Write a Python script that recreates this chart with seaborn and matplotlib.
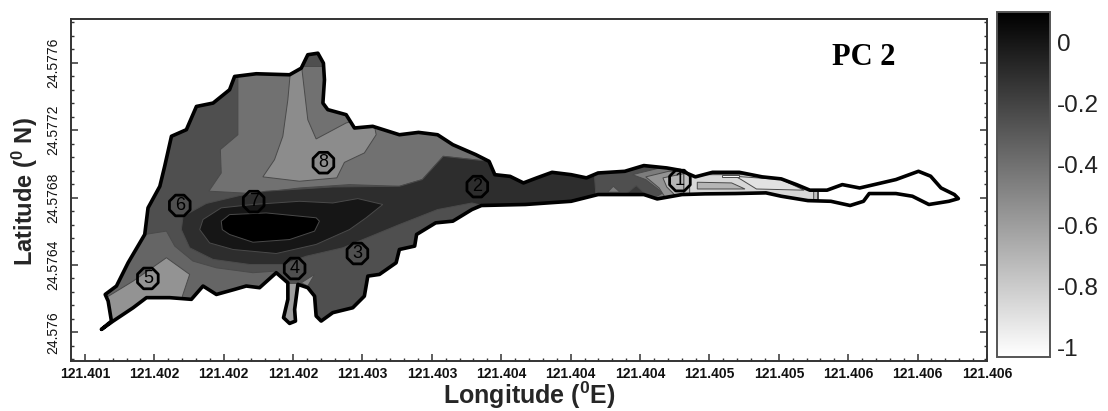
"""PC 2 loading map over the wetland outline, with the eight sampling sites."""

import matplotlib

matplotlib.use("Agg")
import matplotlib.pyplot as plt
import numpy as np
import seaborn as sns
from matplotlib.cm import ScalarMappable
from matplotlib.colors import Normalize
from matplotlib.patches import Polygon
from matplotlib.ticker import MultipleLocator

# all traced coordinates are in microdegrees from these origins
LON0 = 121.40
LAT0 = 24.57

OUTLINE_LON = [1296, 1353, 1334, 1317, 1382, 1449, 1545, 1564, 1632, 1660, 1699, 1785, 1843, 1939,
               2034, 2063, 2188, 2380, 2447, 2485, 2543, 2575, 2581, 2572, 2600, 2706, 2754, 2859,
               3013, 3123, 3233, 3321, 3453, 3530, 3563, 3651, 3728, 3805, 3893, 4003, 4091, 4158,
               4312, 4422, 4554, 4631, 4719, 4818, 4972, 5104, 5214, 5302, 5379, 5478, 5566, 5666,
               5875, 6005, 6075, 6135, 6212, 6235, 6180, 6065, 5970, 5875, 5721, 5688, 5611, 5500,
               5368, 5214, 5126, 4950, 4774, 4642, 4499, 4422, 4158, 4003, 3739, 3486, 3431, 3321,
               3222, 3112, 3101, 3013, 2994, 2898, 2831, 2811, 2744, 2629, 2562, 2533, 2524, 2485,
               2428, 2409, 2414, 2380, 2345, 2370, 2370, 2303, 2207, 2130, 2063, 1958, 1881, 1814,
               1689, 1555, 1478, 1363, 1296]
OUTLINE_LAT = [6018, 6067, 6186, 6225, 6275, 6413, 6581, 6739, 6867, 6986, 7164, 7203, 7341, 7361,
               7440, 7519, 7535, 7529, 7568, 7648, 7657, 7598, 7499, 7361, 7322, 7292, 7213, 7223,
               7173, 7187, 7173, 7114, 7055, 7015, 6936, 6926, 6887, 6917, 6950, 6936, 6917, 6946,
               6956, 6990, 6976, 6962, 6923, 6950, 6950, 6923, 6911, 6877, 6844, 6844, 6877, 6857,
               6907, 6956, 6927, 6857, 6818, 6794, 6778, 6759, 6808, 6824, 6824, 6778, 6753, 6778,
               6782, 6808, 6828, 6824, 6822, 6818, 6792, 6818, 6818, 6778, 6759, 6753, 6729, 6660,
               6650, 6581, 6512, 6492, 6413, 6344, 6334, 6215, 6146, 6117, 6067, 6097, 6215, 6265,
               6285, 6136, 6067, 6053, 6087, 6196, 6294, 6354, 6265, 6275, 6255, 6225, 6275, 6196,
               6206, 6206, 6146, 6067, 6018]

NORTH_LON = [2082, 2082, 1981, 1986, 1915, 2169, 2437, 2725, 3013, 3145, 3266, 3497, 3497, 3013]
NORTH_LAT = [7578, 7173, 7085, 6946, 6838, 6824, 6857, 6877, 6867, 6907, 7045, 7019, 7381, 7578]

NORTH_INNER_LON = [2389, 2370, 2341, 2293, 2226, 2437, 2652, 2696, 2811, 2879, 2859, 2706, 2533, 2485, 2447]
NORTH_INNER_LAT = [7598, 7381, 7164, 7025, 6923, 6897, 6917, 7009, 7065, 7173, 7282, 7243, 7148, 7262, 7598]

SOUTHWEST_LON = [1286, 1545, 1670, 1718, 1823, 1958, 2169, 2303, 2322, 1286]
SOUTHWEST_LAT = [6581, 6581, 6601, 6512, 6423, 6383, 6354, 6364, 6196, 5998]

SOUTHWEST_INNER_LON = [1306, 1478, 1670, 1804, 1762, 1747, 1286]
SOUTHWEST_INNER_LAT = [6196, 6304, 6443, 6344, 6215, 5998, 5998]

PATCH_LON = [2447, 2524, 2485]
PATCH_LAT = [6294, 6344, 6275]

CHANNEL_LON = [2341, 2437, 2437, 2341]
CHANNEL_LAT = [6294, 6294, 6038, 6038]

CORE_LON = [1766, 1900, 2092, 2245, 2629, 3013, 3145, 3266, 3497, 3673, 4136, 4146, 3673, 3431,
            3233, 3013, 2687, 2476, 2341, 2150, 1939, 1804, 1756]
CORE_LAT = [6689, 6765, 6812, 6838, 6863, 6867, 6907, 7045, 7019, 7045, 6946, 6808, 6709, 6768,
            6729, 6640, 6502, 6452, 6403, 6403, 6433, 6502, 6610]

CORE_INNER_LON = [1862, 1881, 1986, 2169, 2437, 2629, 2773, 2917, 2821, 2725, 2533, 2303, 2054, 1919]
CORE_INNER_LAT = [6610, 6670, 6739, 6759, 6778, 6768, 6794, 6759, 6680, 6610, 6522, 6468, 6492, 6531]

CORE_PEAK_LON = [1986, 2034, 2245, 2533, 2552, 2524, 2380, 2169, 2034, 1992]
CORE_PEAK_LAT = [6660, 6699, 6709, 6680, 6660, 6601, 6551, 6535, 6581, 6610]

BIT_LIGHT_LON = [4213, 4246, 4285]
BIT_LIGHT_LAT = [6832, 6867, 6832]

CHEVRON_A_LON = [4356, 4554, 4653, 4653, 4466, 4532, 4433]
CHEVRON_A_LAT = [6936, 6986, 6986, 6798, 6788, 6828, 6907]

CHEVRON_B_LON = [4433, 4565, 4653, 4653, 4543, 4510]
CHEVRON_B_LAT = [6923, 6956, 6956, 6808, 6804, 6857]

CHEVRON_C_LON = [4532, 4653, 4653, 4598, 4554]
CHEVRON_C_LAT = [6917, 6942, 6818, 6818, 6863]

BIT_DARK_LON = [4323, 4378, 4440]
BIT_DARK_LAT = [6824, 6871, 6812]

EAST_LON = [4653, 5423, 5423, 4653]
EAST_LAT = [6986, 6907, 6768, 6768]

EAST_LIGHT_LON = [4686, 4994, 5214, 5401, 5401, 5126, 4686]
EAST_LIGHT_LAT = [6936, 6936, 6917, 6838, 6778, 6828, 6818]

EAST_STRIPE_LON = [4730, 4928, 5005, 4730]
EAST_STRIPE_LAT = [6891, 6887, 6851, 6851]

EAST_PALE_LON = [4950, 5214, 5346, 5071, 4983]
EAST_PALE_LAT = [6926, 6907, 6844, 6851, 6907]

EAST_WHITE_LON = [4873, 4972, 4972, 4873]
EAST_WHITE_LAT = [6934, 6934, 6923, 6923]

TAIL_LON = [5423, 6315, 6315, 5423]
TAIL_LAT = [6986, 6986, 6709, 6709]

BASE_LEVEL = -0.25
# drawn in this order, later bands sit on top of earlier ones
BANDS = [
    (-0.4, NORTH_LON, NORTH_LAT),
    (-0.52, NORTH_INNER_LON, NORTH_INNER_LAT),
    (-0.35, SOUTHWEST_LON, SOUTHWEST_LAT),
    (-0.55, SOUTHWEST_INNER_LON, SOUTHWEST_INNER_LAT),
    (-0.5, PATCH_LON, PATCH_LAT),
    (-0.6, CHANNEL_LON, CHANNEL_LAT),
    (-0.1, CORE_LON, CORE_LAT),
    (0.0, CORE_INNER_LON, CORE_INNER_LAT),
    (0.1, CORE_PEAK_LON, CORE_PEAK_LAT),
    (-0.45, BIT_LIGHT_LON, BIT_LIGHT_LAT),
    (-0.45, CHEVRON_A_LON, CHEVRON_A_LAT),
    (-0.55, CHEVRON_B_LON, CHEVRON_B_LAT),
    (-0.7, CHEVRON_C_LON, CHEVRON_C_LAT),
    (-0.15, BIT_DARK_LON, BIT_DARK_LAT),
    (-0.75, EAST_LON, EAST_LAT),
    (-0.85, EAST_LIGHT_LON, EAST_LIGHT_LAT),
    (-0.7, EAST_STRIPE_LON, EAST_STRIPE_LAT),
    (-0.9, EAST_PALE_LON, EAST_PALE_LAT),
    (-1.0, EAST_WHITE_LON, EAST_WHITE_LAT),
    (-1.03, TAIL_LON, TAIL_LAT),
]

SITE_IDS = ["1", "2", "3", "4", "5", "6", "7", "8"]
SITE_LON = [4630, 3462, 2771, 2409, 1563, 1747, 2173, 2575]
SITE_LAT = [6901, 6865, 6468, 6379, 6320, 6753, 6776, 7007]

X_TICKS = [121.4012 + 0.0004 * i for i in range(14)]
X_LABELS = ["121.401", "121.402", "121.402", "121.402", "121.403", "121.403", "121.404",
            "121.404", "121.404", "121.405", "121.405", "121.406", "121.406", "121.406"]
Y_TICKS = [24.576, 24.5764, 24.5768, 24.5772, 24.5776]
Y_LABELS = ["24.576", "24.5764", "24.5768", "24.5772", "24.5776"]
CBAR_TICKS = [0, -0.2, -0.4, -0.6, -0.8, -1]
CBAR_LABELS = ["0", "-0.2", "-0.4", "-0.6", "-0.8", "-1"]


def to_lon(values):
    return LON0 + np.asarray(values) * 1e-6


def to_lat(values):
    return LAT0 + np.asarray(values) * 1e-6


sns.set_theme(style="ticks")
plt.rcParams["font.family"] = ["Liberation Sans", "DejaVu Sans"]
plt.rcParams["mathtext.fontset"] = "custom"
plt.rcParams["mathtext.bf"] = "Liberation Sans:bold"

W, H = 1108, 411
fig = plt.figure(figsize=(W / 100, H / 100), dpi=100)
ax = fig.add_axes([71 / W, 1 - 361 / H, 916 / W, 342 / H])
cax = fig.add_axes([997 / W, 1 - 357 / H, 53 / W, 345 / H])

cmap = sns.blend_palette(["white", "black"], as_cmap=True)
norm = Normalize(vmin=-1.03, vmax=0.10)

ax.set_xlim(121.40112, 121.4064)
ax.set_ylim(24.57583, 24.57786)

outline_lon = to_lon(OUTLINE_LON)
outline_lat = to_lat(OUTLINE_LAT)
clip = Polygon(np.column_stack([outline_lon, outline_lat]), closed=True,
               facecolor=cmap(norm(BASE_LEVEL)), edgecolor="none", zorder=1)
ax.add_patch(clip)

for i, (level, lon, lat) in enumerate(BANDS):
    for poly in ax.fill(to_lon(lon), to_lat(lat), facecolor=cmap(norm(level)),
                        edgecolor="#4a4a4a", linewidth=0.7, zorder=2 + i * 0.01):
        poly.set_clip_path(clip)

sns.lineplot(x=outline_lon, y=outline_lat, sort=False, estimator=None, color="black",
             linewidth=2.6, ax=ax, zorder=3)
sns.scatterplot(x=to_lon(SITE_LON), y=to_lat(SITE_LAT), marker="8", s=260, facecolor="none",
                edgecolor="black", linewidth=2.0, ax=ax, zorder=4)
for name, lon, lat in zip(SITE_IDS, to_lon(SITE_LON), to_lat(SITE_LAT)):
    ax.text(lon, lat, name, ha="center", va="center", fontsize=13, color="black", zorder=5)

ax.text(to_lon(5689), to_lat(7630), "PC 2", family="Liberation Serif", fontweight="bold",
        fontsize=22, ha="center", va="center", color="black")

ax.set_xticks(X_TICKS, X_LABELS, fontsize=10, fontweight="bold", color="#111111")
ax.set_yticks(Y_TICKS, Y_LABELS, fontsize=10, rotation=90, va="center", color="#111111")
ax.xaxis.set_minor_locator(MultipleLocator(0.00008))
ax.yaxis.set_minor_locator(MultipleLocator(0.00008))
ax.tick_params(axis="both", which="major", direction="in", length=5, width=1.1, color="#333333")
ax.tick_params(axis="both", which="minor", direction="in", length=2.5, width=1.0, color="#333333")
ax.tick_params(axis="y", which="both", right=True, pad=7.5)
ax.tick_params(axis="x", which="both", top=False, pad=4)
for spine in ax.spines.values():
    spine.set_visible(True)
    spine.set_linewidth(1.4)
    spine.set_color("#333333")

ax.set_xlabel(r"Longitude ($\mathbf{^{0}}$E)", fontsize=18, fontweight="bold", va="center")
ax.set_ylabel(r"Latitude ($\mathbf{^{0}}$ N)", fontsize=17, fontweight="bold", va="center")
ax.xaxis.set_label_coords(0.5, -0.1)
ax.yaxis.set_label_coords(-0.05, 0.494)

cbar = fig.colorbar(ScalarMappable(norm=norm, cmap=cmap), cax=cax)
cbar.set_ticks(CBAR_TICKS, labels=CBAR_LABELS)
cbar.ax.tick_params(direction="in", length=3, width=1, color="#333333", left=True, right=True,
                    labelsize=17.5, pad=5, labelcolor="#222222")
cbar.outline.set_linewidth(1.4)
cbar.outline.set_edgecolor("#555555")

fig.savefig("out.png", dpi=100)
plt.close(fig)
